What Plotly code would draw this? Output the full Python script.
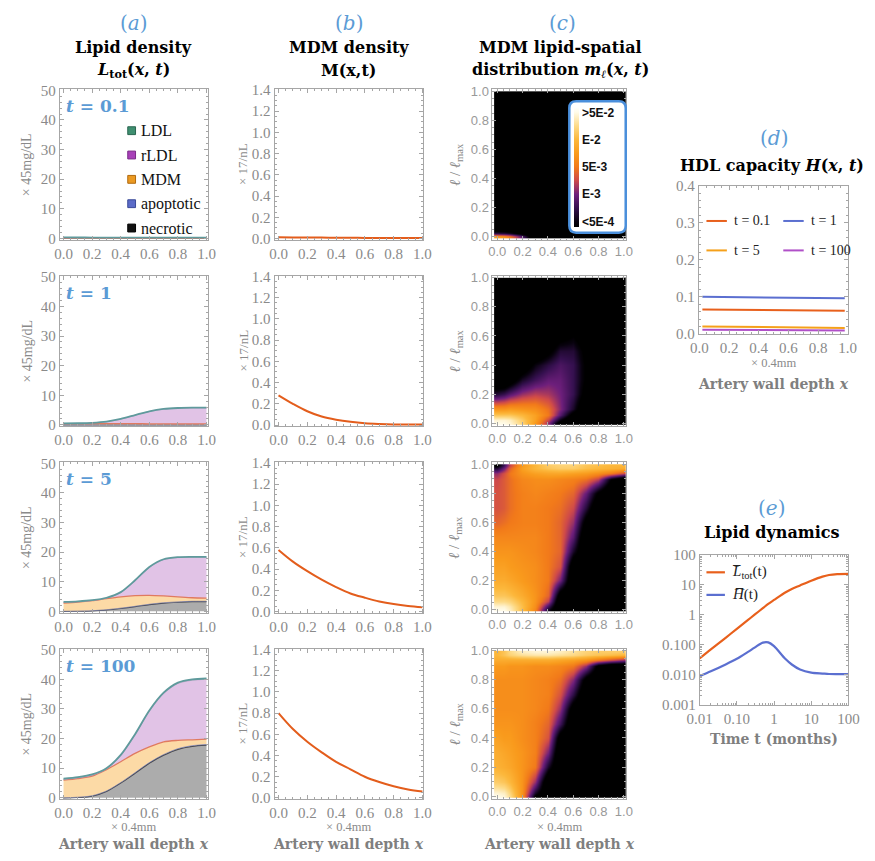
import plotly.graph_objects as go

W, H = 875, 861
def fx(p): return p / W
def fy(p): return 1 - p / H

# ---------------- data ----------------
depth = [0.0, 0.1, 0.2, 0.3, 0.4, 0.5, 0.6, 0.7, 0.8, 0.9, 1.0]
time_labels = ["0.1", "1", "5", "100"]

# (a) lipid layers (thickness of each stacked layer), x 45 mg/dL
necrotic_t01 = [0.0, 0.0, 0.0, 0.0, 0.0, 0.0, 0.0, 0.0, 0.0, 0.0, 0.0]
apoptotic_t01 = [0.0, 0.0, 0.0, 0.0, 0.0, 0.0, 0.0, 0.0, 0.0, 0.0, 0.0]
mdm_t01 = [0.08, 0.06, 0.05, 0.04, 0.04, 0.04, 0.04, 0.04, 0.04, 0.04, 0.04]
rldl_t01 = [0.2, 0.2, 0.2, 0.2, 0.2, 0.2, 0.2, 0.2, 0.2, 0.2, 0.2]
ldl_t01 = [0.05, 0.05, 0.05, 0.05, 0.05, 0.05, 0.05, 0.05, 0.05, 0.05, 0.05]

necrotic_t1 = [0.0, 0.0, 0.0, 0.0, 0.0, 0.0, 0.0, 0.0, 0.0, 0.0, 0.0]
apoptotic_t1 = [0.02, 0.02, 0.02, 0.02, 0.02, 0.02, 0.02, 0.02, 0.02, 0.02, 0.02]
mdm_t1 = [0.4, 0.4, 0.4, 0.4, 0.4, 0.38, 0.35, 0.3, 0.3, 0.3, 0.3]
rldl_t1 = [0.03, 0.08, 0.23, 0.63, 1.53, 2.85, 4.18, 5.03, 5.33, 5.43, 5.43]
ldl_t1 = [0.05, 0.05, 0.05, 0.05, 0.05, 0.05, 0.05, 0.05, 0.05, 0.05, 0.05]

necrotic_t5 = [0.0, 0.05, 0.2, 0.5, 1.0, 1.6, 2.3, 2.8, 3.1, 3.3, 3.3]
apoptotic_t5 = [0.02, 0.02, 0.03, 0.05, 0.08, 0.1, 0.1, 0.1, 0.1, 0.1, 0.1]
mdm_t5 = [2.78, 3.03, 3.37, 3.75, 3.82, 3.6, 3.0, 2.3, 1.7, 1.2, 1.1]
rldl_t5 = [0.25, 0.15, 0.05, 0.15, 1.45, 5.05, 9.45, 12.25, 13.25, 13.65, 13.75]
ldl_t5 = [0.15, 0.15, 0.15, 0.15, 0.15, 0.15, 0.15, 0.15, 0.15, 0.15, 0.15]

necrotic_t100 = [0.0, 0.15, 0.6, 2.2, 5.0, 8.3, 11.7, 14.4, 16.4, 17.4, 17.8]
apoptotic_t100 = [0.0, 0.05, 0.1, 0.1, 0.15, 0.2, 0.2, 0.2, 0.2, 0.2, 0.2]
mdm_t100 = [6.0, 6.3, 6.6, 7.2, 7.05, 6.5, 5.3, 4.3, 2.8, 2.0, 1.8]
rldl_t100 = [0.2, 0.2, 0.3, 0.2, 2.0, 6.2, 12.0, 16.3, 19.2, 20.1, 20.2]
ldl_t100 = [0.3, 0.3, 0.3, 0.3, 0.3, 0.3, 0.3, 0.3, 0.3, 0.3, 0.3]

# (b) MDM density, x 17/nL
mdm_density_t01 = [0.012, 0.011, 0.01, 0.009, 0.008, 0.007, 0.006, 0.006, 0.005, 0.005, 0.005]
mdm_density_t1 = [0.28, 0.2, 0.13, 0.08, 0.05, 0.03, 0.017, 0.01, 0.006, 0.005, 0.005]
mdm_density_t5 = [0.58, 0.47, 0.38, 0.3, 0.23, 0.17, 0.13, 0.095, 0.07, 0.052, 0.04]
mdm_density_t100 = [0.8, 0.65, 0.53, 0.43, 0.34, 0.27, 0.2, 0.15, 0.11, 0.08, 0.06]

# (c) MDM lipid-spatial distribution, colour level (0:<5E-4, 1:E-3, 2:5E-3, 3:E-2, 4:>5E-2)
heat_x = [0.0, 0.05, 0.1, 0.2, 0.3, 0.4, 0.5, 0.6, 0.7, 0.8, 0.9, 1.0]
heat_l = [0.0, 0.02, 0.06, 0.1, 0.2, 0.3, 0.4, 0.5, 0.6, 0.7, 0.8, 0.9, 0.94, 0.97, 0.99]
BK = -1.0
m_level_t01 = [
    [2.6, 2.4, 2.0, 0.8, BK, BK, BK, BK, BK, BK, BK, BK],
    [0.5, 0.4, 0.2, -0.5, BK, BK, BK, BK, BK, BK, BK, BK],
    [BK, BK, BK, BK, BK, BK, BK, BK, BK, BK, BK, BK],
    [BK, BK, BK, BK, BK, BK, BK, BK, BK, BK, BK, BK],
    [BK, BK, BK, BK, BK, BK, BK, BK, BK, BK, BK, BK],
    [BK, BK, BK, BK, BK, BK, BK, BK, BK, BK, BK, BK],
    [BK, BK, BK, BK, BK, BK, BK, BK, BK, BK, BK, BK],
    [BK, BK, BK, BK, BK, BK, BK, BK, BK, BK, BK, BK],
    [BK, BK, BK, BK, BK, BK, BK, BK, BK, BK, BK, BK],
    [BK, BK, BK, BK, BK, BK, BK, BK, BK, BK, BK, BK],
    [BK, BK, BK, BK, BK, BK, BK, BK, BK, BK, BK, BK],
    [BK, BK, BK, BK, BK, BK, BK, BK, BK, BK, BK, BK],
    [BK, BK, BK, BK, BK, BK, BK, BK, BK, BK, BK, BK],
    [BK, BK, BK, BK, BK, BK, BK, BK, BK, BK, BK, BK],
    [BK, BK, BK, BK, BK, BK, BK, BK, BK, BK, BK, BK],
]
m_level_t1 = [
    [4.0, 4.0, 3.9, 3.4, 2.5, 1.2, -0.6, BK, BK, BK, BK, BK],
    [3.9, 3.9, 3.8, 3.3, 2.6, 1.5, 0.0, BK, BK, BK, BK, BK],
    [3.2, 3.2, 3.2, 3.0, 2.6, 2.0, 0.8, -0.5, BK, BK, BK, BK],
    [2.4, 2.4, 2.5, 2.4, 2.3, 1.9, 1.1, 0.2, BK, BK, BK, BK],
    [0.3, 0.5, 0.8, 1.2, 1.4, 1.3, 1.0, 0.5, -0.5, BK, BK, BK],
    [BK, BK, -0.6, 0.2, 0.6, 0.9, 0.9, 0.5, -0.3, BK, BK, BK],
    [BK, BK, BK, -0.8, 0.0, 0.4, 0.7, 0.5, -0.3, BK, BK, BK],
    [BK, BK, BK, BK, BK, -0.4, 0.3, 0.3, -0.4, BK, BK, BK],
    [BK, BK, BK, BK, BK, BK, -0.5, -0.2, -0.7, BK, BK, BK],
    [BK, BK, BK, BK, BK, BK, BK, BK, BK, BK, BK, BK],
    [BK, BK, BK, BK, BK, BK, BK, BK, BK, BK, BK, BK],
    [BK, BK, BK, BK, BK, BK, BK, BK, BK, BK, BK, BK],
    [BK, BK, BK, BK, BK, BK, BK, BK, BK, BK, BK, BK],
    [BK, BK, BK, BK, BK, BK, BK, BK, BK, BK, BK, BK],
    [BK, BK, BK, BK, BK, BK, BK, BK, BK, BK, BK, BK],
]
m_level_t5 = [
    [4.0, 4.0, 3.8, 3.1, 2.2, 0.2, BK, BK, BK, BK, BK, BK],
    [3.9, 3.9, 3.7, 3.1, 2.3, 0.6, BK, BK, BK, BK, BK, BK],
    [3.5, 3.5, 3.4, 3.0, 2.4, 1.4, BK, BK, BK, BK, BK, BK],
    [3.2, 3.2, 3.1, 2.8, 2.4, 1.8, -0.6, BK, BK, BK, BK, BK],
    [2.8, 2.8, 2.7, 2.5, 2.3, 2.0, 1.0, BK, BK, BK, BK, BK],
    [2.6, 2.6, 2.5, 2.4, 2.3, 2.0, 1.6, -0.8, BK, BK, BK, BK],
    [2.4, 2.4, 2.4, 2.3, 2.2, 2.0, 1.8, 0.2, BK, BK, BK, BK],
    [2.2, 2.2, 2.2, 2.2, 2.2, 2.0, 1.8, 0.8, BK, BK, BK, BK],
    [1.8, 1.9, 2.0, 2.1, 2.1, 2.0, 1.8, 1.2, -0.5, BK, BK, BK],
    [1.6, 1.7, 1.9, 2.1, 2.1, 2.0, 1.9, 1.5, 0.3, BK, BK, BK],
    [1.6, 1.7, 1.9, 2.1, 2.2, 2.1, 2.0, 1.8, 0.9, -0.3, BK, BK],
    [1.5, 1.7, 1.9, 2.2, 2.3, 2.3, 2.2, 2.1, 1.9, 1.4, -0.2, BK],
    [1.2, 1.6, 2.0, 2.4, 2.6, 2.7, 2.7, 2.6, 2.5, 2.3, 2.0, 1.5],
    [0.3, 1.0, 1.8, 2.6, 3.0, 3.2, 3.3, 3.3, 3.1, 3.0, 2.9, 2.8],
    [-0.3, 0.6, 1.5, 2.5, 3.0, 3.3, 3.4, 3.4, 3.2, 3.1, 3.0, 3.0],
]
m_level_t100 = [
    [4.0, 3.9, 3.5, 2.4, -0.2, BK, BK, BK, BK, BK, BK, BK],
    [3.9, 3.8, 3.4, 2.4, 0.2, BK, BK, BK, BK, BK, BK, BK],
    [3.6, 3.5, 3.2, 2.4, 0.7, BK, BK, BK, BK, BK, BK, BK],
    [3.3, 3.2, 3.0, 2.4, 1.2, BK, BK, BK, BK, BK, BK, BK],
    [2.9, 2.8, 2.7, 2.4, 2.0, 0.2, BK, BK, BK, BK, BK, BK],
    [2.8, 2.7, 2.6, 2.4, 2.1, 1.0, BK, BK, BK, BK, BK, BK],
    [2.6, 2.5, 2.5, 2.3, 2.1, 1.6, -0.6, BK, BK, BK, BK, BK],
    [2.4, 2.4, 2.4, 2.3, 2.1, 1.8, 0.6, BK, BK, BK, BK, BK],
    [2.3, 2.3, 2.3, 2.3, 2.2, 2.0, 1.2, -0.6, BK, BK, BK, BK],
    [2.3, 2.3, 2.3, 2.3, 2.2, 2.1, 1.6, 0.4, BK, BK, BK, BK],
    [2.3, 2.3, 2.3, 2.3, 2.2, 2.1, 1.9, 1.1, -0.5, BK, BK, BK],
    [2.5, 2.5, 2.4, 2.4, 2.3, 2.3, 2.2, 2.0, 1.2, -0.4, BK, BK],
    [2.8, 2.8, 2.8, 2.8, 2.8, 2.8, 2.7, 2.6, 2.4, 2.0, 1.6, 1.2],
    [3.0, 3.2, 3.4, 3.6, 3.7, 3.7, 3.6, 3.5, 3.3, 3.2, 3.1, 3.0],
    [3.0, 3.2, 3.5, 3.8, 3.9, 3.9, 3.8, 3.6, 3.4, 3.3, 3.3, 3.3],
]
level_tickvals = [0, 1, 2, 3, 4]
level_ticktext = ["&lt;5E-4", "E-3", "5E-3", "E-2", "&gt;5E-2"]

# (d) HDL capacity
hdl_x = [0.02, 0.5, 0.98]
hdl_t01 = [0.066, 0.064, 0.062]
hdl_t1 = [0.100, 0.098, 0.096]
hdl_t5 = [0.020, 0.018, 0.016]
hdl_t100 = [0.011, 0.010, 0.009]

# (e) lipid dynamics
dyn_t = [0.01, 0.02, 0.05, 0.1, 0.2, 0.3, 0.5, 0.7, 1, 2, 3, 5, 10, 20, 30, 50, 100]
dyn_L = [0.035, 0.07, 0.17, 0.34, 0.67, 1.0, 1.65, 2.3, 3.1, 5.5, 7.2, 9.4, 13.5, 18.5, 21.0, 22.5, 23.0]
dyn_H = [0.009, 0.013, 0.022, 0.034, 0.058, 0.08, 0.118, 0.12, 0.09, 0.034, 0.022, 0.015, 0.0118, 0.011, 0.0106, 0.0105, 0.0105]

# ---------------- styling ----------------
BLUE_TXT = "#5b9bd5"
GRAY_TXT = "#8a8a8a"
FRAME = "#a6a6a6"
SERIF = "Liberation Serif"
HEAD = "DejaVu Serif"
SANS = "Liberation Sans"
ORANGE = "#e35d1c"

rows_top = [83, 273, 463, 653]
ROW_H = 153
col_a = (48, 200)
col_b = (269, 422)
col_c = (493, 630)

fig = go.Figure()
layout = {}

def ax_names(i):
    return ("xaxis" if i == 1 else f"xaxis{i}", "yaxis" if i == 1 else f"yaxis{i}",
            "x" if i == 1 else f"x{i}", "y" if i == 1 else f"y{i}")

def base_axis(font, **kw):
    d = dict(showline=True, linecolor=FRAME, linewidth=1, mirror="ticks",
             ticks="inside", ticklen=4, tickcolor=FRAME, showgrid=False,
             zeroline=False, tickfont=font, fixedrange=True,
             minor=dict(ticks="inside", ticklen=2, tickcolor=FRAME, showgrid=False))
    d.update(kw)
    return d

serif_font = dict(family=SERIF, size=15, color=GRAY_TXT)
sans_font = dict(family=SANS, size=13, color="#999999")

def add_axes(i, xpx, ypx, xkw, ykw, font=serif_font):
    xa, ya, xr, yr = ax_names(i)
    layout[xa] = base_axis(font, domain=[fx(xpx[0]), fx(xpx[1])], anchor=yr, **xkw)
    layout[ya] = base_axis(font, domain=[fy(ypx[1]), fy(ypx[0])], anchor=xr, **ykw)
    return xr, yr

x01_ticks = dict(tickvals=[0, 0.2, 0.4, 0.6, 0.8, 1.0],
                 ticktext=["0.0", "0.2", "0.4", "0.6", "0.8", "1.0"])

# ---- column (a)
layers = [
    (necrotic_t01, apoptotic_t01, mdm_t01, rldl_t01, ldl_t01),
    (necrotic_t1, apoptotic_t1, mdm_t1, rldl_t1, ldl_t1),
    (necrotic_t5, apoptotic_t5, mdm_t5, rldl_t5, ldl_t5),
    (necrotic_t100, apoptotic_t100, mdm_t100, rldl_t100, ldl_t100),
]
layer_style = [
    ("necrotic", "rgba(140,140,140,0.72)", "#4a4a4a", 1.3),
    ("apoptotic", "rgba(110,120,200,0.8)", "#6070b8", 0.6),
    ("MDM", "rgba(252,212,150,0.85)", "#e07a60", 1.3),
    ("rLDL", "rgba(215,175,222,0.75)", "#b090c0", 0.6),
    ("LDL", "rgba(130,200,160,0.8)", "#5f9a9c", 1.8),
]
for r in range(4):
    i = 1 + r
    xr, yr = add_axes(i, col_a, (rows_top[r], rows_top[r] + ROW_H),
                      dict(range=[-0.027, 1.007], minor_dtick=0.05, **x01_ticks),
                      dict(range=[-0.4, 50.3], dtick=10, minor_dtick=2))
    for (name, fc, lc, lw), vals in zip(layer_style, layers[r]):
        fig.add_trace(go.Scatter(x=depth, y=vals, xaxis=xr, yaxis=yr, mode="lines",
                                 stackgroup=f"a{r}", fillcolor=fc,
                                 line=dict(color=lc, width=lw, shape="spline", smoothing=0.8),
                                 name=name, showlegend=False, hoverinfo="skip"))

# ---- column (b)
mdm_series = [mdm_density_t01, mdm_density_t1, mdm_density_t5, mdm_density_t100]
for r in range(4):
    i = 5 + r
    xr, yr = add_axes(i, col_b, (rows_top[r], rows_top[r] + ROW_H),
                      dict(range=[-0.027, 1.007], minor_dtick=0.05, **x01_ticks),
                      dict(range=[-0.01, 1.405], dtick=0.2, tickformat=".1f", minor_dtick=0.05))
    fig.add_trace(go.Scatter(x=depth, y=mdm_series[r], xaxis=xr, yaxis=yr, mode="lines",
                             line=dict(color=ORANGE, width=2, shape="spline"),
                             showlegend=False, hoverinfo="skip"))

# ---- column (c)
colorscale = [[0.0, "#000000"], [0.045, "#08020e"], [0.16, "#35104f"], [0.27, "#6e1f7c"],
              [0.39, "#cf4a4a"], [0.5, "#f27a1a"], [0.61, "#f99a1c"], [0.73, "#fcb83c"],
              [0.84, "#fdda86"], [0.955, "#fffbe8"], [1.0, "#ffffff"]]
heat_series = [m_level_t01, m_level_t1, m_level_t5, m_level_t100]
for r in range(4):
    i = 9 + r
    xr, yr = add_axes(i, col_c, (rows_top[r], rows_top[r] + ROW_H),
                      dict(range=[-0.038, 1.015], minor_dtick=0.05, **x01_ticks),
                      dict(range=[-0.02, 1.013], dtick=0.2, tickformat=".1f", minor_dtick=0.05),
                      font=sans_font)
    fig.add_trace(go.Heatmap(x=heat_x, y=heat_l, z=heat_series[r], xaxis=xr, yaxis=yr,
                             zsmooth="best", colorscale=colorscale, zmin=-0.2, zmax=4.2,
                             showscale=(r == 0), hoverinfo="skip",
                             colorbar=dict(x=fx(577), xanchor="left", y=fy(162), yanchor="middle",
                                           len=120, lenmode="pixels", thickness=5,
                                           thicknessmode="pixels", xpad=0, ypad=0,
                                           outlinewidth=0, ticks="", tickvals=level_tickvals,
                                           ticktext=[f"<b>{t}</b>" for t in level_ticktext],
                                           tickfont=dict(family=SANS, size=12, color="#111111"),
                                           bgcolor="rgba(0,0,0,0)")))

# ---- column (d)
xr, yr = add_axes(13, (705, 859), (181, 332),
                  dict(range=[-0.005, 1.005], minor_dtick=0.05, **x01_ticks),
                  dict(range=[0, 0.4], dtick=0.1, tickformat=".1f", minor_dtick=0.02))
hdl_series = [(hdl_t01, "#e8601c"), (hdl_t1, "#5b6fd0"), (hdl_t5, "#f5a01a"), (hdl_t100, "#b050c8")]
for vals, c in hdl_series:
    fig.add_trace(go.Scatter(x=hdl_x, y=vals, xaxis=xr, yaxis=yr, mode="lines",
                             line=dict(color=c, width=2), showlegend=False, hoverinfo="skip"))

# ---- column (e)
xr, yr = add_axes(14, (706, 859), (557, 710),
                  dict(type="log", range=[-2, 2], tickvals=[0.01, 0.1, 1, 10, 100],
                       ticktext=["0.01", "0.10", "1", "10", "100"], minor_dtick="D1"),
                  dict(type="log", range=[-3, 2], tickvals=[0.001, 0.01, 0.1, 1, 10, 100],
                       ticktext=["0.001", "0.010", "0.100", "1", "10", "100"], minor_dtick="D1"))
fig.add_trace(go.Scatter(x=dyn_t, y=dyn_L, xaxis=xr, yaxis=yr, mode="lines",
                         line=dict(color="#e8601c", width=2.2, shape="spline", smoothing=0.8),
                         showlegend=False, hoverinfo="skip"))
fig.add_trace(go.Scatter(x=dyn_t, y=dyn_H, xaxis=xr, yaxis=yr, mode="lines",
                         line=dict(color="#5b6fd0", width=2.2, shape="spline", smoothing=0.8),
                         showlegend=False, hoverinfo="skip"))

# ---------------- annotations ----------------
ann = []
def text(x, y, s, size=13, color="black", family=SERIF, xanchor="center", angle=0):
    ann.append(dict(x=fx(x), y=fy(y), xref="paper", yref="paper", text=s, showarrow=False,
                    xanchor=xanchor, yanchor="middle", textangle=angle, borderpad=0,
                    font=dict(family=family, size=size, color=color)))

# column headings
text(124, 15, "(<i>a</i>)", 20, BLUE_TXT, HEAD)
text(124, 40, "<b>Lipid density</b>", 16, "black", HEAD)
text(124, 64, "<b><i>L</i><sub>tot</sub>(<i>x</i>, <i>t</i>)</b>", 16, "black", HEAD)
text(345, 15, "(<i>b</i>)", 20, BLUE_TXT, HEAD)
text(345, 40, "<b>MDM density</b>", 16, "black", HEAD)
text(345, 64, "<b>M(x,t)</b>", 16, "black", HEAD)
text(565, 15, "(<i>c</i>)", 20, BLUE_TXT, HEAD)
text(563, 40, "<b>MDM lipid-spatial</b>", 16, "black", HEAD)
text(563, 64, "<b>distribution <i>m</i><sub><i>ℓ</i></sub>(<i>x</i>, <i>t</i>)</b>", 16, "black", HEAD)
text(782, 132, "(<i>d</i>)", 20, BLUE_TXT, HEAD)
text(780, 160, "<b>HDL capacity <i>H</i>(<i>x</i>, <i>t</i>)</b>", 16, "black", HEAD)
text(780, 509, "(<i>e</i>)", 20, BLUE_TXT, HEAD)
text(780, 534, "<b>Lipid dynamics</b>", 16, "black", HEAD)

# time labels in column (a)
for r, lbl in enumerate(time_labels):
    text(53, rows_top[r] + 17, f"<b><i>t</i> = {lbl}</b>", 17, BLUE_TXT, HEAD, xanchor="left")

# y-axis titles
for r in range(4):
    yc = rows_top[r] + ROW_H / 2
    text(14, yc, "× 45mg/dL", 14, GRAY_TXT, SERIF, angle=-90)
    text(236, yc, "× 17/nL", 13, GRAY_TXT, SERIF, angle=-90)
    text(455, yc, "<i>ℓ</i> / <i>ℓ</i><sub>max</sub>", 15, GRAY_TXT, SERIF, angle=-90)

# x-axis titles
for xc in (124, 345, 562):
    text(xc, 834, "× 0.4mm", 12.5, GRAY_TXT, SERIF)
    text(xc, 852, "<b>Artery wall depth <i>x</i></b>", 14, "#7f7f7f", HEAD)
text(782, 362, "× 0.4mm", 12.5, GRAY_TXT, SERIF)
text(782, 383, "<b>Artery wall depth <i>x</i></b>", 14, "#7f7f7f", HEAD)
text(782, 745, "<b>Time t (months)</b>", 14, "#7f7f7f", HEAD)

# legend (a)
shapes = []
leg_a = [("LDL", "#3f8f70", "#2a6650"), ("rLDL", "#a840b8", "#7a2a88"),
         ("MDM", "#eb9a22", "#b06a10"), ("apoptotic", "#5b6bc8", "#3a4a98"),
         ("necrotic", "#111111", "#000000")]
for k, (name, fc, lc) in enumerate(leg_a):
    yc = 125 + k * 24.8
    shapes.append(dict(type="rect", xref="paper", yref="paper",
                       x0=fx(118), x1=fx(126), y0=fy(yc + 4), y1=fy(yc - 4),
                       fillcolor=fc, line=dict(color=lc, width=1)))
    text(131, yc, name, 16, "#111111", SERIF, xanchor="left")

# legend (d)
leg_d = [("t = 0.1", "#e8601c", 713, 217), ("t = 1", "#5b6fd0", 792, 217),
         ("t = 5", "#f5a01a", 713, 247), ("t = 100", "#b050c8", 792, 247)]
for name, c, x0, yc in leg_d:
    shapes.append(dict(type="line", xref="paper", yref="paper", x0=fx(x0), x1=fx(x0 + 21),
                       y0=fy(yc), y1=fy(yc), line=dict(color=c, width=2)))
    text(x0 + 27, yc, name, 14, "#222222", SERIF, xanchor="left")

# legend (e)
leg_e = [("<i>L̅</i><sub>tot</sub>(t)", "#e8601c", 575), ("<i>H̅</i>(t)", "#5b6fd0", 598)]
for name, c, yc in leg_e:
    shapes.append(dict(type="line", xref="paper", yref="paper", x0=fx(713), x1=fx(732),
                       y0=fy(yc), y1=fy(yc), line=dict(color=c, width=2.2)))
    text(738, yc, name, 15, "#222222", SERIF, xanchor="left")

# rounded box behind the colour bar
bx0, by0, bx1, by1, rr = 572, 95, 630, 229, 7
path = (f"M {fx(bx0 + rr)},{fy(by0)} L {fx(bx1 - rr)},{fy(by0)} "
        f"Q {fx(bx1)},{fy(by0)} {fx(bx1)},{fy(by0 + rr)} L {fx(bx1)},{fy(by1 - rr)} "
        f"Q {fx(bx1)},{fy(by1)} {fx(bx1 - rr)},{fy(by1)} L {fx(bx0 + rr)},{fy(by1)} "
        f"Q {fx(bx0)},{fy(by1)} {fx(bx0)},{fy(by1 - rr)} L {fx(bx0)},{fy(by0 + rr)} "
        f"Q {fx(bx0)},{fy(by0)} {fx(bx0 + rr)},{fy(by0)} Z")
shapes.append(dict(type="path", xref="paper", yref="paper", path=path, layer="above",
                   fillcolor="white", line=dict(color="#4a8fdc", width=2.5)))

fig.update_layout(width=W, height=H, margin=dict(l=0, r=0, t=0, b=0),
                  paper_bgcolor="white", plot_bgcolor="white",
                  showlegend=False, annotations=ann, shapes=shapes, **layout)

fig.write_html("out.html")
